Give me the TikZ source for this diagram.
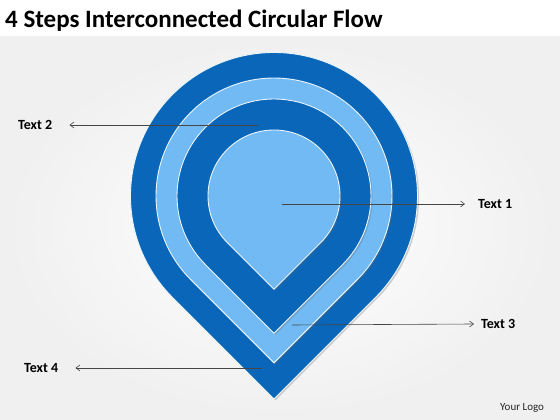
\documentclass[tikz,border=0pt]{standalone}
\usepackage{fontspec}
\setmainfont{Carlito}
\usetikzlibrary{calc,shadows,arrows.meta}
\definecolor{pindark}{RGB}{10,102,184}
\definecolor{pinlight}{RGB}{114,186,244}
\definecolor{linegray}{RGB}{70,70,70}
\newcommand\pinshape[2]{%
  \fill[#2, draw=white!85!pinlight, line width=0.9pt,
        drop shadow={shadow xshift=1.5pt, shadow yshift=-1.5pt, opacity=0.3, fill=black!60}]
    ($(c)+(0,{-1.41421*#1})$) -- ($(c)+(225:#1)$)
    arc[start angle=225, end angle=-45, radius=#1] -- cycle;}
\tikzset{
  lbl/.style={font=\bfseries\fontsize{14}{16}\selectfont, text=black, inner sep=0pt},
  callout/.style={draw=linegray, line width=0.6pt, -{Straight Barb[length=4pt,width=6pt,line width=0.6pt]}}
}
\begin{document}
\begin{tikzpicture}[x=1pt,y=1pt]
\useasboundingbox (0,0) rectangle (560,420);
% background
\fill[white] (0,0) rectangle (560,420);
\shade[inner color=white, outer color=black!6] (0,0) rectangle (560,383);
\node[anchor=base west, inner sep=0pt, font=\bfseries\fontsize{25}{29}\selectfont] (title) at (5,392) {4 Steps Interconnected Circular Flow};
% pin shapes
\coordinate (c) at (274,224);
\pinshape{143.5}{pindark}
\pinshape{118}{pinlight}
\pinshape{97}{pindark}
\pinshape{66}{pinlight}
% callout anchors
\coordinate (p1) at (282,216);
\coordinate (p2) at (258,295);
\coordinate (p3) at (292,95);
\coordinate (p4) at (262,52);
% labels
\node[lbl, anchor=west] (t1) at (478,216) {Text 1};
\node[lbl, anchor=west] (t2) at (18,295) {Text 2};
\node[lbl, anchor=west] (t3) at (481,96) {Text 3};
\node[lbl, anchor=west] (t4) at (24,52) {Text 4};
\draw[callout] (p1) -- ($(t1.west)+(-13,0)$);
\draw[callout] (p2) -- ($(t2.east)+(17,0)$);
\draw[callout] (p3) -- ($(t3.west)+(-7,0)$);
\draw[callout] (p4) -- ($(t4.east)+(17,0)$);
\node[anchor=base west, inner sep=0pt, font=\fontsize{11}{13}\selectfont, text=black!85] (logo) at (500,9) {Your Logo};
\end{tikzpicture}
\end{document}
